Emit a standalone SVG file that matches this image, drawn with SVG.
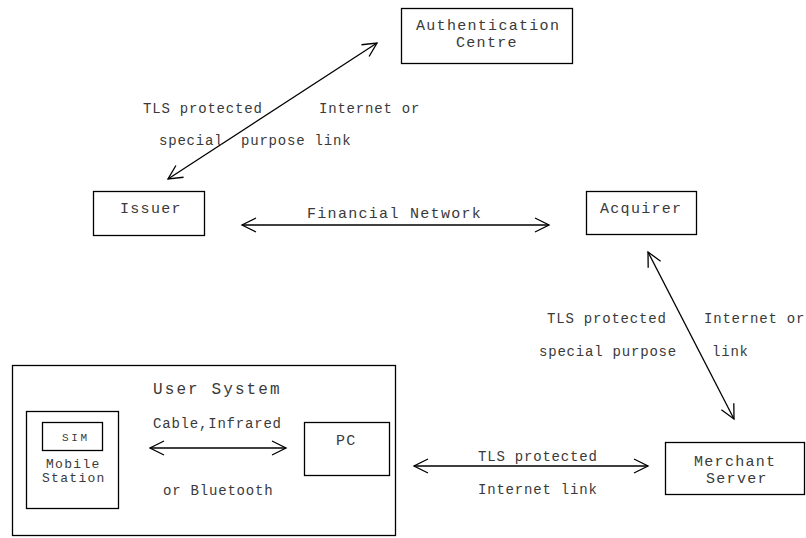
<svg xmlns="http://www.w3.org/2000/svg" width="806" height="538" viewBox="0 0 806 538">
  <defs>
    <marker id="arrow" markerUnits="userSpaceOnUse" markerWidth="20" markerHeight="20" viewBox="-16 -10 20 20" refX="0" refY="0" orient="auto-start-reverse">
      <path d="M -14 -7 L 0 0 L -14 7" fill="none" stroke="#000" stroke-width="1.3"/>
    </marker>
    <style>
      rect { fill: #fff; stroke: #000; stroke-width: 1.3; }
      text { font-family: "Liberation Mono", "Courier New", monospace; fill: #3a3a3a; }
      .n { font-size: 15px; letter-spacing: 1.3px; }
      .l { font-size: 14px; letter-spacing: 0.8px; }
      .u { font-size: 16px; letter-spacing: 2.1px; }
      .m { font-size: 13px; letter-spacing: 1.3px; }
      .s { font-size: 11px; letter-spacing: 2.6px; }
      .link { fill: none; stroke: #000; stroke-width: 1.3; marker-start: url(#arrow); marker-end: url(#arrow); }
    </style>
  </defs>
  <rect x="0" y="0" width="806" height="538" style="fill:#fff;stroke:none"/>

  <g id="authentication-centre">
    <rect x="401.5" y="8.5" width="171" height="55"/>
    <text class="n" x="416" y="30">Authentication</text>
    <text class="n" x="456" y="47">Centre</text>
  </g>

  <g id="issuer">
    <rect x="93.5" y="191.5" width="111" height="44"/>
    <text class="n" x="120" y="213">Issuer</text>
  </g>

  <g id="acquirer">
    <rect x="586.5" y="191.5" width="110" height="43"/>
    <text class="n" x="600" y="213">Acquirer</text>
  </g>

  <g id="user-system">
    <rect x="12.5" y="365.5" width="383" height="170"/>
    <text class="u" x="153" y="394">User System</text>
  </g>

  <g id="mobile-station">
    <rect x="26.5" y="411.5" width="92" height="97"/>
    <text class="m" x="46" y="468">Mobile</text>
    <text class="m" x="42" y="482">Station</text>
  </g>

  <g id="sim">
    <rect x="42.5" y="422.5" width="60" height="28"/>
    <text class="s" x="62" y="441">SIM</text>
  </g>

  <g id="pc">
    <rect x="304.5" y="422.5" width="85" height="53"/>
    <text class="n" x="336" y="445">PC</text>
  </g>

  <g id="merchant-server">
    <rect x="665.5" y="442.5" width="139" height="52"/>
    <text class="n" x="694" y="466">Merchant</text>
    <text class="n" x="706" y="483">Server</text>
  </g>

  <g id="connectors">
    <line class="link" x1="377" y1="43" x2="168" y2="179"/>
    <line class="link" x1="242" y1="225" x2="549" y2="225"/>
    <line class="link" x1="648" y1="252" x2="734" y2="419"/>
    <line class="link" x1="150" y1="448" x2="286" y2="448"/>
    <line class="link" x1="414" y1="466" x2="648" y2="466"/>
  </g>

  <g id="connector-labels">
    <text class="l" x="143" y="113">TLS protected</text>
    <text class="l" x="319" y="113">Internet or</text>
    <text class="l" x="159" y="145">special</text>
    <text class="l" x="241" y="145">purpose link</text>
    <text class="n" x="307" y="218">Financial Network</text>
    <text class="l" x="547" y="323">TLS protected</text>
    <text class="l" x="704" y="323">Internet or</text>
    <text class="l" x="539" y="356">special purpose</text>
    <text class="l" x="712" y="356">link</text>
    <text class="l" x="153" y="428">Cable,Infrared</text>
    <text class="l" x="163" y="495">or Bluetooth</text>
    <text class="l" x="478" y="461">TLS protected</text>
    <text class="l" x="478" y="494">Internet link</text>
  </g>
</svg>
